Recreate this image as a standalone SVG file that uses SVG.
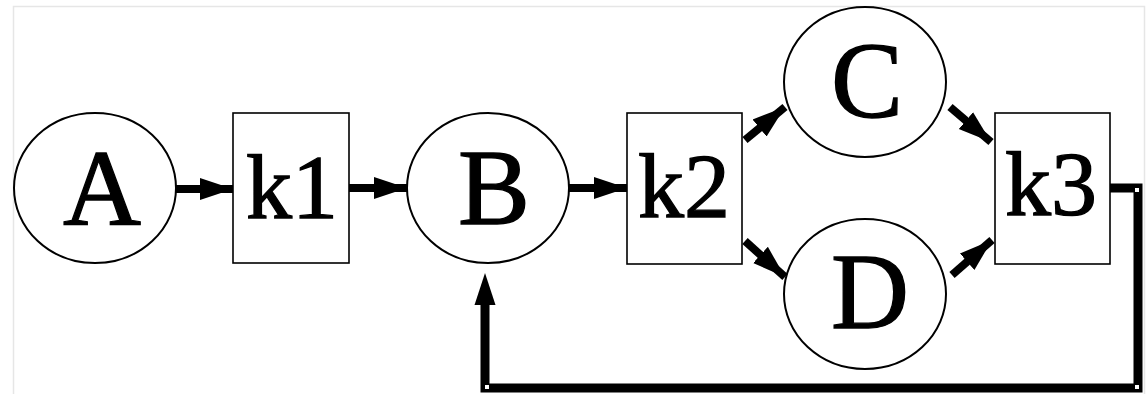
<svg xmlns="http://www.w3.org/2000/svg" width="1146" height="394" viewBox="0 0 1146 394">
  <style>
    .state { fill: #fff; stroke: #000; stroke-width: 2; }
    .rate { fill: #fff; stroke: #000; stroke-width: 1.6; }
    .label { font-family: "Liberation Serif", "Times New Roman", Times, serif; fill: #000; stroke: #000; stroke-width: 1.3; text-anchor: middle; }
    .big { font-size: 108px; }
    .small { font-size: 92px; }
    .flow { stroke: #000; stroke-width: 8; fill: none; marker-end: url(#head); }
    .loop { stroke: #000; stroke-width: 9; fill: none; stroke-linejoin: miter; }
    .corner { fill: #fff; }
  </style>
  <defs>
    <marker id="head" markerUnits="userSpaceOnUse" markerWidth="36" markerHeight="24" refX="33" refY="12" orient="auto">
      <path d="M0,1 L33,12 L0,23 Z" fill="#000"/>
    </marker>
  </defs>

  <rect x="0" y="0" width="1146" height="394" fill="#fff"/>
  <!-- page frame -->
  <path d="M13.5,400 V6.5 H1144.5 V400" fill="none" stroke="#e6e6e6" stroke-width="1.5"/>

  <g id="connectors">
    <line class="flow" x1="176" y1="189" x2="233" y2="189"/>
    <line class="flow" x1="349" y1="188" x2="407" y2="188"/>
    <line class="flow" x1="569" y1="188" x2="627" y2="188"/>
    <line class="flow" x1="745" y1="140" x2="785" y2="107"/>
    <line class="flow" x1="745" y1="241" x2="785" y2="277"/>
    <line class="flow" x1="950" y1="107" x2="991" y2="142"/>
    <line class="flow" x1="952" y1="275" x2="992" y2="240"/>
    <!-- feedback loop from k3 back to B -->
    <polyline class="loop" points="1110,188 1138,188 1138,388 485,388 485,303"/>
    <path d="M474.5,305 L485,273 L495.5,305 Z" fill="#000"/>
    <rect class="corner" x="1135" y="188" width="4" height="4"/>
    <rect class="corner" x="1135" y="385" width="4" height="4"/>
    <rect class="corner" x="485" y="385" width="4" height="4"/>
  </g>

  <g id="A">
    <ellipse class="state" cx="95" cy="188" rx="81" ry="75"/>
    <text class="label big" x="102" y="225">A</text>
  </g>
  <g id="k1">
    <rect class="rate" x="233" y="113" width="116" height="150"/>
    <text class="label small" x="292" y="218">k1</text>
  </g>
  <g id="B">
    <ellipse class="state" cx="488" cy="188" rx="81" ry="75"/>
    <text class="label big" x="494" y="224">B</text>
  </g>
  <g id="k2">
    <rect class="rate" x="627" y="113" width="115" height="151"/>
    <text class="label small" x="684" y="217">k2</text>
  </g>
  <g id="C">
    <ellipse class="state" cx="865" cy="82" rx="81" ry="75"/>
    <text class="label big" x="867" y="117">C</text>
  </g>
  <g id="D">
    <ellipse class="state" cx="865" cy="294" rx="81" ry="75"/>
    <text class="label big" x="870" y="328">D</text>
  </g>
  <g id="k3">
    <rect class="rate" x="995" y="113" width="115" height="151"/>
    <text class="label small" x="1051" y="215">k3</text>
  </g>
</svg>
